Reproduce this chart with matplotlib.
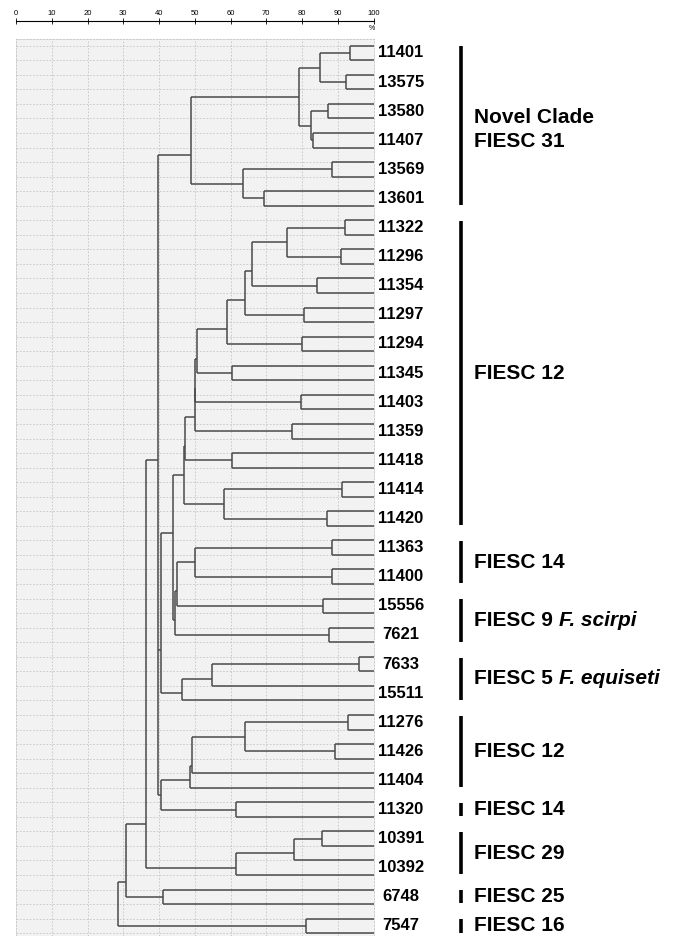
import numpy as np
import matplotlib
matplotlib.use('Agg')
import matplotlib.pyplot as plt
from matplotlib import transforms

plt.rcParams['font.family'] = ['Liberation Sans', 'DejaVu Sans']

# strain labels, one per pair of dendrogram rows (top to bottom)
strains = ['11401', '13575', '13580', '11407', '13569', '13601',
           '11322', '11296', '11354', '11297', '11294', '11345', '11403',
           '11359', '11418', '11414', '11420', '11363', '11400', '15556',
           '7621', '7633', '15511', '11276', '11426', '11404', '11320',
           '10391', '10392', '6748', '7547']

# dendrogram: (similarity %, child, child, ...); ints are row numbers (0..61)
novel_clade = (49.0,
               (79.1,
                (85.1, (93.5, 0, 1), (92.4, 2, 3)),
                (82.6, (87.4, 4, 5), (83.1, 6, 7))),
               (63.5, (88.5, 8, 9), (69.4, 10, 11)))

fiesc12_core = (47.0,
                (47.3,
                 (50.0,
                  (50.2,
                   (50.6,
                    (59.1,
                     (64.1,
                      (66.1,
                       (75.9, (92.1, 12, 13), (90.8, 14, 15)),
                       (84.1, 16, 17)),
                      (80.5, 18, 19)),
                     (80.0, 20, 21)),
                    (60.4, 22, 23)),
                   (79.6, 24, 25)),
                  (77.2, 26, 27)),
                 (60.4, 28, 29)),
                (58.2, (91.2, 30, 31), (87.1, 32, 33)))

fiesc14_9 = (44.4,
             (44.9,
              (50.2, (88.5, 34, 35), (88.5, 36, 37)),
              (85.8, 38, 39)),
             (87.5, 40, 41))

fiesc5 = (46.3, (54.8, (95.9, 42, 43), 44), 45)

fiesc12_b = (40.5,
             (48.7, (49.1, (64.0, (92.8, 46, 47), (89.1, 48, 49)), 50), 51),
             (61.6, 52, 53))

fiesc29 = (61.6, (77.9, (85.6, 54, 55), 56), 57)

tree = (28.4,
        (30.9,
         (36.3,
          (39.8,
           novel_clade,
           (40.5, (43.9, fiesc12_core, fiesc14_9), fiesc5),
           fiesc12_b),
          fiesc29),
         (41.0, 58, 59)),
        (81.2, 60, 61))

# clade annotations: text, species (italic), first and last strain index
clade_names = ['Novel Clade\nFIESC 31', 'FIESC 12', 'FIESC 14', 'FIESC 9',
               'FIESC 5', 'FIESC 12', 'FIESC 14', 'FIESC 29', 'FIESC 25',
               'FIESC 16']
clade_species = ['', '', '', 'F. scirpi', 'F. equiseti', '', '', '', '', '']
clade_first = [0, 6, 17, 19, 21, 23, 26, 27, 29, 30]
clade_last = [5, 16, 18, 20, 22, 25, 26, 28, 29, 30]

n_rows = 2 * len(strains)
line_col = '#4a4a4a'
grid_col = '#c4c4c4'

fig = plt.figure(figsize=(6.8, 9.36), dpi=100)
ax = fig.add_axes([16 / 680, 0, 357.5 / 680, (936 - 39.3) / 936])
ax.set_xlim(0, 100)
ax.set_ylim(61.19, -0.44)
ax.set_facecolor('#f2f2f2')
ax.set_xticks([])
ax.set_yticks([])
for s in ax.spines.values():
    s.set_color(grid_col)
    s.set_linestyle((0, (2, 2)))
    s.set_linewidth(0.6)

# grid
for gx in range(10, 100, 10):
    ax.axvline(gx, color=grid_col, ls=(0, (2, 2)), lw=0.6, zorder=0)
for r in range(n_rows):
    ax.axhline(r, color=grid_col, ls=(0, (2, 2)), lw=0.6, zorder=0)


def draw(node):
    # returns (attach row, height, first row, last row)
    if isinstance(node, int):
        return node, 100.0, node, node
    h = node[0]
    info = [draw(k) for k in node[1:]]
    ys = [i[0] for i in info]
    ax.vlines(h, ys[0], ys[-1], color=line_col, lw=1.1, zorder=3)
    for y, kh, _, _ in info:
        ax.hlines(y, h, kh, color=line_col, lw=1.1, zorder=3)
    bounds = [(info[i][3] + info[i + 1][2]) / 2 for i in range(len(info) - 1)]
    return np.mean(bounds), h, info[0][2], info[-1][3]


draw(tree)

# strain labels
lab_tr = transforms.blended_transform_factory(fig.transFigure, ax.transData)
for i, name in enumerate(strains):
    ax.text(401 / 680, 2 * i + 0.5, name, transform=lab_tr, ha='center',
            va='center', fontsize=12, fontweight='bold', clip_on=False)

# clade bars and names
for name, sp, a, b in zip(clade_names, clade_species, clade_first, clade_last):
    y0, y1 = 2 * a, 2 * b + 1
    ax.vlines(461 / 680, y0 + 0.05, y1 - 0.05, transform=lab_tr,
              color='black', lw=2.6, clip_on=False)
    yc = (y0 + y1) / 2
    if '\n' in name:
        yc += 0.25
    t = ax.text(474 / 680, yc, name, transform=lab_tr, ha='left', va='center',
                fontsize=15, fontweight='bold', clip_on=False,
                linespacing=1.3)
    if sp:
        ax.annotate(sp, xy=(1, yc), xycoords=(t, lab_tr), xytext=(4.5, 0),
                    textcoords='offset points', ha='left', va='center',
                    fontsize=15, fontweight='bold', style='italic')

# similarity scale on top
ax_top = fig.add_axes([16 / 680, 1 - 21 / 936, 357.5 / 680, 0.0001])
ax_top.set_xlim(0, 100)
ax_top.patch.set_visible(False)
for k in ['left', 'right', 'bottom']:
    ax_top.spines[k].set_visible(False)
ax_top.spines['top'].set_linewidth(0.8)
ax_top.set_yticks([])
ax_top.xaxis.tick_top()
ax_top.set_xticks(np.arange(0, 101, 10))
ax_top.tick_params(axis='x', direction='inout', length=4, width=0.6,
                   labelsize=5.5, pad=0.5)
fig.text(372 / 680, 1 - 29 / 936, '%', fontsize=5, ha='center', va='center')

fig.savefig('out.png', dpi=100)
